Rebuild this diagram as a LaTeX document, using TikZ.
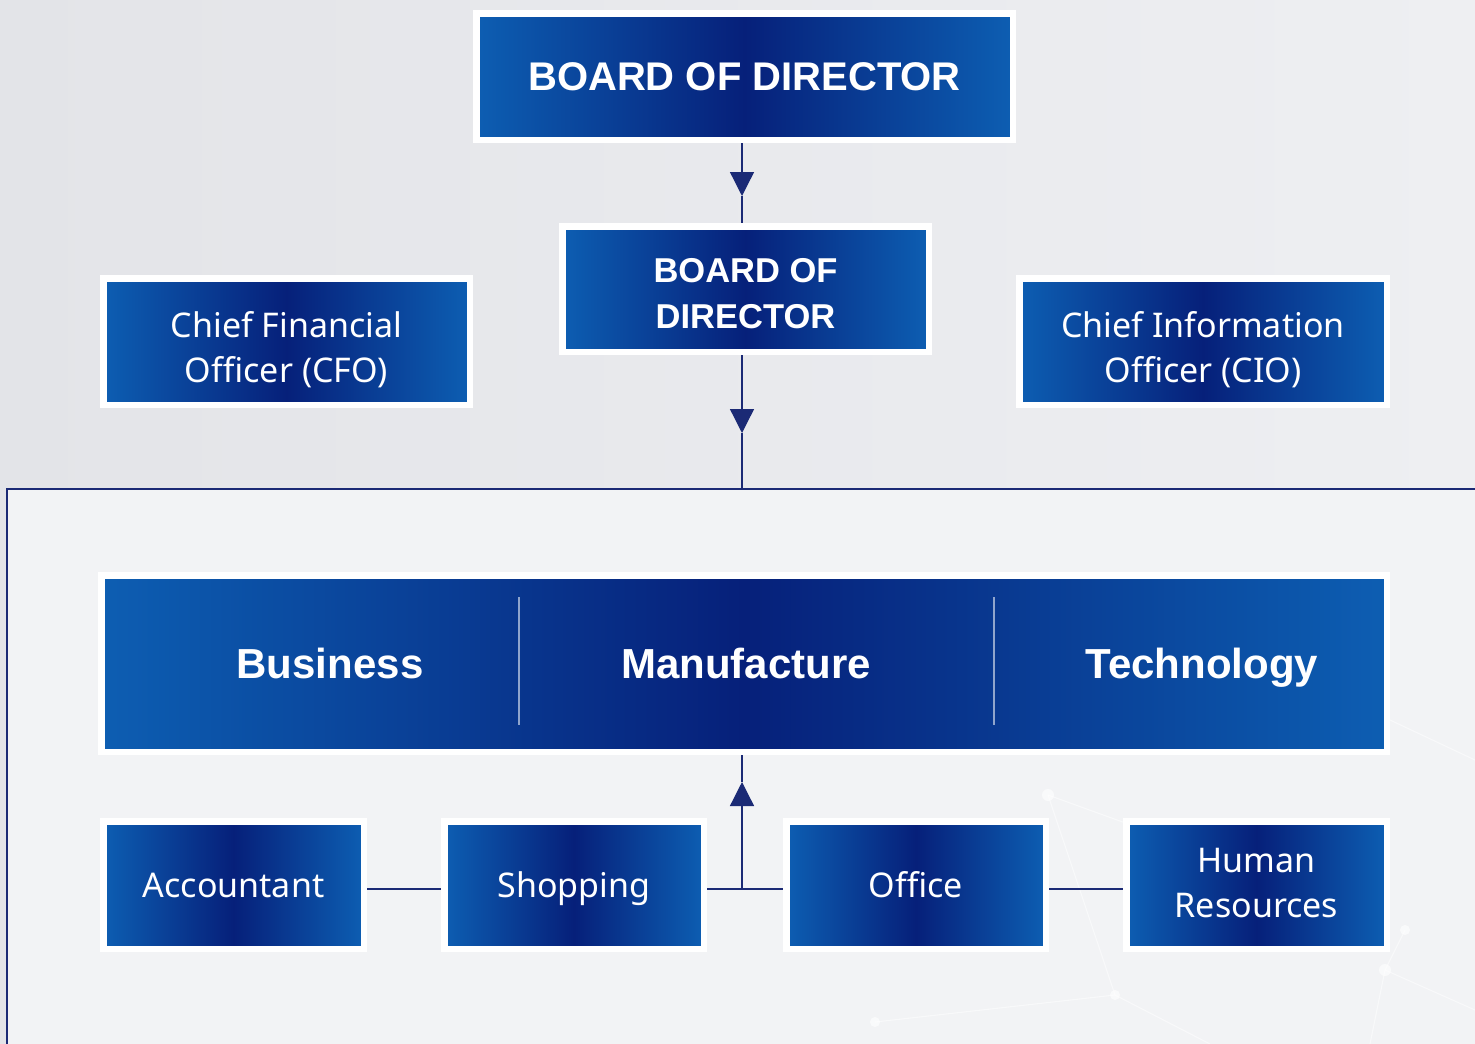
\documentclass[tikz,border=0pt]{standalone}
\usepackage{fontspec}
\setmainfont{Noto Sans}
\newfontfamily\hvy{Liberation Sans}
\usetikzlibrary{arrows.meta,shadows,calc}
\definecolor{bgA}{HTML}{E3E4E8}
\definecolor{bgB}{HTML}{EEEFF2}
\definecolor{panel}{HTML}{F2F3F5}
\definecolor{navy}{HTML}{1B2A75}
\definecolor{blueL}{HTML}{0D5EB2}
\definecolor{blueD}{HTML}{06207A}
\begin{document}
\begin{tikzpicture}[x=1pt,y=-1pt,
  box/.style={draw=white, line width=6.5pt, left color=blueL, right color=blueL, middle color=blueD,
    text=white, align=center, inner sep=0pt,
    drop shadow={shadow xshift=1.5pt, shadow yshift=-2.5pt, opacity=0.15, fill=black!60}},
  txt/.style={text=white, align=center, inner sep=0pt},
  titlef/.style={font=\fontsize{40}{48}\selectfont\hvy\bfseries, text height=28.6pt, text depth=0pt},
  subtf/.style={font=\fontsize{34.5}{46}\selectfont\hvy\bfseries},
  barf/.style={font=\fontsize{42}{48}\selectfont\hvy\bfseries, text=white, text height=30pt, text depth=0pt},
  regf/.style={font=\fontsize{34}{45}\selectfont},
  regone/.style={regf, text height=24.3pt, text depth=0pt},
  conn/.style={draw=navy, line width=1.3pt},
  tip/.style={-{Triangle[width=24pt,length=24pt]}},
  divider/.style={draw=white, draw opacity=0.55, line width=1.2pt},
  net/.style={draw=white, line width=1.1pt, draw opacity=0.5}
]
\useasboundingbox (0,0) rectangle (1475,1044);
\clip (0,0) rectangle (1475,1044);
% background
\shade[left color=bgA, right color=bgB] (0,0) rectangle (1475,1044);
\fill[panel] (7,489) rectangle (1490,1060);
% faint network decoration
\draw[net] (1048,795) -- (1115,995) -- (1210,1044);
\draw[net] (1048,795) -- (1200,850);
\draw[net] (1115,995) -- (875,1022);
\draw[net] (1405,930) -- (1385,970) -- (1370,1044);
\draw[net] (1385,970) -- (1475,1010);
\draw[net] (1390,720) -- (1475,760);
\fill[white, opacity=0.6] (1048,795) circle (6) (1115,995) circle (5) (1385,970) circle (6) (1405,930) circle (5) (875,1022) circle (5);
\draw[navy, line width=1.1pt] (7,1060) -- (7,489) -- (1490,489);
\coordinate (ptop) at (742,489);

% nodes
\node[box, titlef, minimum width=536.5, minimum height=126.5] (bod1) at (744.5,76.5) {BOARD OF DIRECTOR};
\node[box, minimum width=366.5, minimum height=125.5] (bod2) at (745.5,289) {};
\node[txt, subtf] (bod2t) at (745.5,294) {BOARD OF\\DIRECTOR};
\node[box, minimum width=366.5, minimum height=126.5] (cfo) at (286.5,341.5) {};
\node[txt, regf] (cfot) at (286.5,349.5) {Chief Financial\\Officer (CFO)};
\node[box, minimum width=367.5, minimum height=126.5] (cio) at (1203,341.5) {};
\node[txt, regf] (ciot) at (1203,349.5) {Chief Information\\Officer (CIO)};
\node[box, minimum width=1285.5, minimum height=176.5] (bar) at (744,663.5) {};
\node[barf] (bus) at (330,663.5) {Business};
\node[barf] (man) at (746,663.5) {Manufacture};
\node[barf] (tec) at (1202,663.5) {Technology};
\draw[divider] (519,597) -- (519,725);
\draw[divider] (994,597) -- (994,725);
\node[box, regone, minimum width=260.5, minimum height=127.5] (acc) at (233.5,885) {Accountant};
\node[box, regone, minimum width=259.5, minimum height=127.5] (shop) at (574,885) {Shopping};
\node[box, regone, minimum width=259.5, minimum height=127.5] (off) at (916,885) {Office};
\node[box, minimum width=260.5, minimum height=127.5] (hr) at (1256.5,885) {};
\node[txt, regf] (hrt) at (1256.5,883) {Human\\Resources};

% connectors
\coordinate (a1) at (742,196);
\coordinate (a2) at (742,433);
\coordinate (a3) at (742,782);
\coordinate (j) at (742,889);
\draw[conn, tip] (bod1.south -| a1) -- (a1);
\draw[conn] (a1) -- (bod2.north -| a1);
\draw[conn, tip] (bod2.south -| a2) -- (a2);
\draw[conn] (a2) -- (ptop);
\draw[conn, tip] (j) -- (a3);
\draw[conn] (a3) -- (bar.south -| a3);
\draw[conn] (acc.east |- j) -- (shop.west |- j);
\draw[conn] (shop.east |- j) -- (off.west |- j);
\draw[conn] (off.east |- j) -- (hr.west |- j);
\end{tikzpicture}
\end{document}
